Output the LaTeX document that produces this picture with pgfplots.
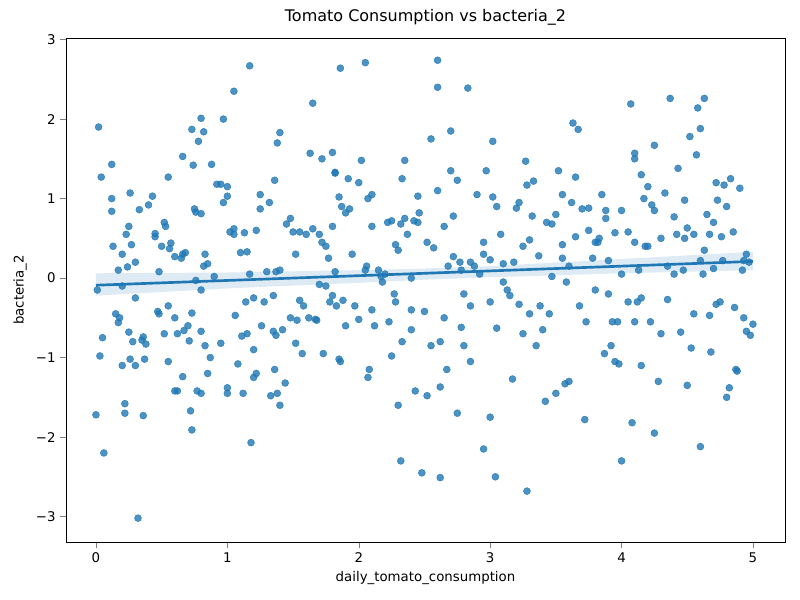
\documentclass[border=0pt]{standalone}
\usepackage{pgfplots}
\pgfplotsset{compat=1.18}
\usepackage{fontspec}
\setmainfont{DejaVu Sans}
\definecolor{mpl}{HTML}{1F77B4}
\begin{document}
\begin{tikzpicture}
\begin{axis}[
  at={(0,0)}, anchor=south west,
  scale only axis, width=539.25pt, height=378pt,
  xmin=-0.228, xmax=5.244, ymin=-3.32, ymax=3.02,
  xtick={0,1,2,3,4,5}, ytick={-3,-2,-1,0,1,2,3},
  yticklabels={−3,−2,−1,0,1,2,3},
  /pgf/number format/assume math mode=true,
  tick label style={font=\fontsize{10}{12}\selectfont},
  label style={font=\fontsize{10}{12}\selectfont},
  title style={font=\fontsize{12}{14}\selectfont},
  title={Tomato Consumption vs bacteria\_2},
  xlabel={daily\_tomato\_consumption}, ylabel={bacteria\_2},
  tick align=outside, tick pos=left,
]
\addplot[fill=mpl, fill opacity=0.15, draw=none] coordinates {
(0,-0.22) (1,-0.13) (2,-0.06) (2.5,-0.02) (3,0.01) (4,0.06) (5,0.1)
(5,0.33) (4,0.24) (3,0.15) (2.5,0.12) (2,0.10) (1,0.07) (0,0.06)} -- cycle;
\addplot[only marks, mark=*, mark size=2.6pt, mpl, fill opacity=0.8, draw opacity=0.8] coordinates {
(0.02,1.9)(0.04,1.27)(0.01,-0.15)(0.03,-0.98)(0.0,-1.72)(0.05,-0.75)(0.06,-2.2)(0.12,1.43)(0.12,1.0)(0.12,0.84)(0.13,0.4)(0.15,-0.45)(0.17,-0.56)(0.17,0.1)(0.18,-0.5)(0.2,0.3)(0.2,-0.1)(0.2,-1.1)(0.22,-1.58)(0.22,-1.7)(0.23,0.55)(0.24,0.14)(0.25,0.65)(0.26,1.07)(0.27,0.42)(0.25,-0.68)(0.26,-1.02)(0.28,-0.8)(0.3,-0.25)(0.3,-1.1)(0.3,0.2)(0.32,-3.02)(0.33,0.86)(0.35,-0.78)(0.36,-0.74)(0.37,-1.02)(0.36,-1.73)(0.38,-0.83)(0.4,0.92)(0.43,1.03)(0.45,0.56)(0.45,0.52)(0.47,-0.42)(0.48,-0.45)(0.48,0.08)(0.5,0.4)(0.52,0.7)(0.53,0.65)(0.52,-0.7)(0.55,1.27)(0.55,-1.05)(0.56,0.37)(0.57,0.44)(0.55,-0.35)(0.6,-0.5)(0.6,0.27)(0.6,-1.42)(0.62,-1.42)(0.62,-0.7)(0.65,0.25)(0.66,0.3)(0.66,1.53)(0.66,-1.24)(0.67,-0.66)(0.68,0.32)(0.7,-0.6)(0.71,-0.79)(0.72,-1.67)(0.73,1.87)(0.73,-0.44)(0.73,-1.91)(0.74,1.42)(0.75,0.87)(0.76,0.83)(0.76,-0.03)(0.77,-1.42)(0.78,1.72)(0.8,-0.15)(0.8,-1.45)(0.8,-0.67)(0.8,0.81)(0.8,2.01)(0.82,1.84)(0.82,0.15)(0.83,0.3)(0.83,-0.85)(0.85,0.18)(0.85,-1.2)(0.87,-1.0)(0.88,1.43)(0.9,0.02)(0.92,1.18)(0.95,1.18)(0.97,2.0)(0.97,0.95)(0.95,-0.82)(1.0,1.15)(1.0,1.03)(1.0,-1.38)(1.0,-1.45)(1.02,0.58)(1.05,0.62)(1.05,0.55)(1.05,2.35)(1.06,-0.47)(1.08,-1.08)(1.1,0.32)(1.11,-0.73)(1.12,-1.45)(1.13,0.57)(1.14,-0.3)(1.15,-0.7)(1.15,0.33)(1.17,2.67)(1.17,0.05)(1.18,-2.07)(1.2,-0.25)(1.2,-1.25)(1.2,-0.9)(1.22,-1.2)(1.22,0.6)(1.25,1.05)(1.25,0.87)(1.26,-0.6)(1.28,-0.3)(1.3,0.08)(1.32,0.95)(1.33,-1.48)(1.35,-0.67)(1.35,-0.22)(1.36,1.23)(1.36,-1.15)(1.37,-0.72)(1.37,0.08)(1.38,1.7)(1.38,-1.45)(1.4,1.83)(1.4,-1.6)(1.4,0.1)(1.42,-0.65)(1.44,-1.32)(1.45,0.68)(1.48,0.75)(1.48,-0.5)(1.5,0.58)(1.52,0.3)(1.52,-0.82)(1.53,-0.53)(1.55,-0.28)(1.55,0.58)(1.57,-0.95)(1.58,-0.35)(1.6,0.55)(1.62,-0.5)(1.63,1.57)(1.65,2.2)(1.65,0.62)(1.67,-0.52)(1.68,-0.53)(1.7,0.55)(1.7,-0.08)(1.72,0.45)(1.72,1.5)(1.73,-0.95)(1.75,-0.1)(1.75,0.4)(1.77,0.25)(1.78,-0.3)(1.8,1.58)(1.8,-0.22)(1.8,0.65)(1.82,1.32)(1.82,1.33)(1.82,0.08)(1.83,-0.35)(1.85,1.02)(1.85,-1.02)(1.86,2.64)(1.86,-1.05)(1.87,0.9)(1.88,-0.28)(1.9,0.82)(1.9,-0.6)(1.92,1.25)(1.93,0.87)(1.95,0.3)(1.97,-0.35)(2.0,1.2)(2.0,-0.52)(2.02,1.48)(2.05,2.71)(2.05,0.1)(2.06,0.15)(2.07,1.0)(2.07,-1.25)(2.08,-1.15)(2.1,0.65)(2.1,1.05)(2.1,-0.4)(2.12,-0.6)(2.15,0.1)(2.17,0.02)(2.18,-0.05)(2.2,0.05)(2.22,0.7)(2.23,-0.55)(2.25,0.72)(2.25,-0.98)(2.27,-0.2)(2.28,0.42)(2.28,-0.3)(2.3,0.35)(2.3,-1.6)(2.32,0.68)(2.32,-2.3)(2.33,-0.8)(2.33,1.25)(2.35,1.48)(2.35,0.75)(2.37,0.55)(2.4,0.0)(2.4,-0.65)(2.4,-0.4)(2.42,0.72)(2.43,-1.42)(2.45,1.03)(2.45,0.7)(2.46,0.82)(2.48,-2.45)(2.5,-0.42)(2.52,-1.48)(2.52,0.45)(2.55,1.75)(2.55,-0.85)(2.57,0.38)(2.6,2.74)(2.6,2.4)(2.6,1.1)(2.62,-0.8)(2.62,-1.37)(2.62,-2.51)(2.65,0.65)(2.65,-0.5)(2.67,-1.15)(2.68,0.15)(2.7,1.35)(2.7,1.85)(2.72,0.27)(2.72,0.78)(2.75,-1.7)(2.75,1.23)(2.77,0.2)(2.78,-0.62)(2.8,-0.2)(2.8,-0.85)(2.83,2.39)(2.85,-1.05)(2.85,-0.35)(2.88,0.15)(2.9,1.05)(2.92,0.05)(2.95,0.45)(2.95,-2.15)(2.97,1.35)(3.0,-1.75)(3.0,-0.3)(3.02,1.72)(3.02,1.02)(3.04,-2.5)(3.05,0.9)(3.05,-0.63)(3.08,0.55)(3.1,0.18)(3.13,-0.15)(3.15,-0.22)(3.17,-1.27)(3.2,0.88)(3.22,-0.33)(3.22,0.95)(3.25,-0.7)(3.27,1.47)(3.28,-2.68)(3.28,1.17)(3.3,-0.45)(3.32,0.78)(3.33,1.22)(3.35,-0.85)(3.37,0.28)(3.4,-0.65)(3.42,-1.55)(3.43,0.7)(3.45,-0.45)(3.47,0.02)(3.5,-1.45)(3.5,0.8)(3.52,1.35)(3.55,0.25)(3.55,0.42)(3.57,-1.33)(3.58,-0.05)(3.6,-1.3)(3.62,0.95)(3.63,1.95)(3.65,1.27)(3.67,1.87)(3.68,-0.35)(3.7,0.87)(3.72,-1.78)(3.73,-0.55)(3.75,0.6)(3.78,0.25)(3.8,-0.15)(3.82,0.45)(3.83,0.5)(3.85,1.05)(3.87,-0.95)(3.88,0.75)(3.9,-0.2)(3.9,0.22)(3.92,-0.85)(3.95,0.57)(3.95,-1.05)(3.97,-0.55)(4.0,0.05)(4.0,-2.3)(4.0,0.85)(4.05,-0.3)(4.07,2.19)(4.08,-1.82)(4.1,-0.55)(4.1,1.5)(4.1,1.57)(4.12,-0.3)(4.13,0.1)(4.15,1.3)(4.15,-1.1)(4.17,1.0)(4.2,1.15)(4.2,0.4)(4.22,-0.55)(4.25,-1.95)(4.25,1.67)(4.28,-1.3)(4.3,-0.7)(4.33,1.07)(4.35,-0.27)(4.37,2.26)(4.4,0.77)(4.42,0.55)(4.43,1.38)(4.45,-0.68)(4.47,0.1)(4.48,0.5)(4.5,-1.35)(4.52,1.78)(4.53,-0.88)(4.55,0.55)(4.57,1.55)(4.58,2.14)(4.6,1.88)(4.6,-2.12)(4.62,0.05)(4.63,2.26)(4.65,0.8)(4.67,-0.47)(4.68,-0.93)(4.7,0.12)(4.72,1.2)(4.72,-0.33)(4.73,0.98)(4.75,-0.3)(4.77,0.22)(4.8,-1.5)(4.8,0.9)(4.82,-1.38)(4.83,1.25)(4.85,0.58)(4.87,-1.15)(4.9,1.13)(4.92,0.1)(4.93,-0.5)(4.95,0.3)(4.95,-0.67)(4.98,-0.72)(5.0,-0.58)(4.97,0.2)(4.93,0.22)(4.88,-1.17)(4.86,-0.37)(4.78,1.17)(4.76,0.52)(4.7,0.7)(4.67,0.55)(4.63,0.35)(4.6,0.22)(4.55,-0.45)(4.5,0.63)(4.48,0.98)(4.4,0.05)(4.35,0.15)(4.3,0.5)(4.25,0.85)(4.23,0.92)(4.18,0.4)(4.15,-0.25)(4.1,0.45)(4.05,0.58)(3.98,-1.08)(3.93,-0.55)(3.88,0.85)(3.8,0.45)(3.75,0.88)(3.65,0.52)(3.6,0.15)(3.55,1.05)(3.47,0.68)(3.38,-0.35)(3.3,0.48)(3.25,0.4)(3.18,0.2)(3.1,-0.05)(3.0,0.23)(2.95,0.3)(2.85,0.2)(2.78,0.1)
};
\addplot[mpl, line width=2pt] coordinates {(0,-0.09) (5,0.21)};
\end{axis}
\path[use as bounding box] (-49.5pt,-43.5pt) rectangle (550.5pt,406.5pt);
\end{tikzpicture}
\end{document}
